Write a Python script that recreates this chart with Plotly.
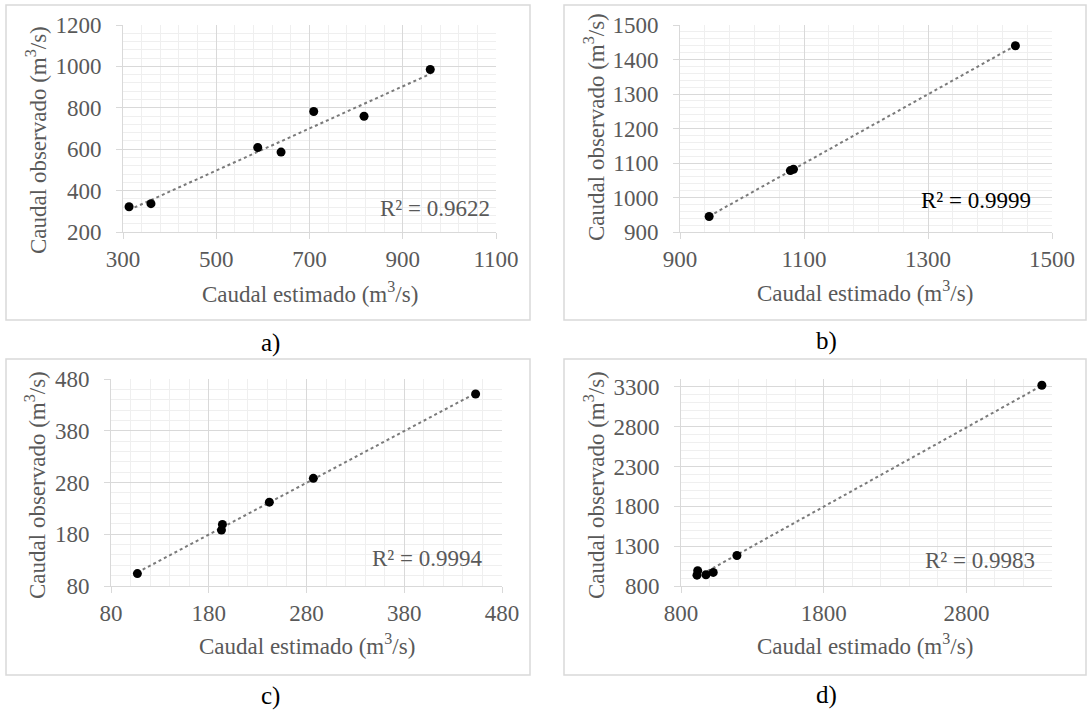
import numpy as np
import plotly.graph_objects as go

# values
a_est = [313, 360, 589, 639, 709, 817, 959]
a_obs = [322, 337, 608, 586, 782, 759, 985]
b_est = [947, 1078, 1083, 1441]
b_obs = [945, 1078, 1082, 1440]
c_est = [107, 193, 194, 242, 287, 453]
c_obs = [104, 188, 199, 242, 288, 451]
d_est = [912, 917, 975, 1026, 1192, 3329]
d_obs = [936, 992, 941, 971, 1183, 3321]
r2_labels = ["R² = 0.9622", "R² = 0.9999", "R² = 0.9994", "R² = 0.9983"]
captions = ["a)", "b)", "c)", "d)"]
x_title = "Caudal estimado (m<sup>3</sup>/s)"
y_title = "Caudal observado (m<sup>3</sup>/s)"

W, H = 1087, 713
FONT = "Liberation Serif"
GREY = "#595959"


def px(x):
    return x / W


def py(y):
    return 1 - y / H


# per panel: axis setup, plot box (l, t, r, b px), frame box, label positions
panels = [
    dict(est=a_est, obs=a_obs, xr=[300, 1100], xd=200, xm=40, yr=[200, 1200], yd=200, ym=40,
         box=(123, 25, 496, 232), frame=(6, 5, 530, 320), cap=(270, 343),
         xt=(310, 292), yt=(36, 140), r2=(492, 208), r2c=GREY),
    dict(est=b_est, obs=b_obs, xr=[900, 1500], xd=200, xm=40, yr=[900, 1500], yd=100, ym=20,
         box=(680, 25, 1052, 232), frame=(564, 5, 1086, 320), cap=(826, 341),
         xt=(865, 291), yt=(595, 127), r2=(1033, 200), r2c="#000000"),
    dict(est=c_est, obs=c_obs, xr=[80, 480], xd=100, xm=20, yr=[80, 480], yd=100, ym=20,
         box=(111, 379, 502, 586), frame=(6, 359, 530, 675), cap=(270, 696),
         xt=(307, 644), yt=(35, 485), r2=(484, 558), r2c=GREY),
    dict(est=d_est, obs=d_obs, xr=[800, 3400], xd=1000, xm=200, yr=[800, 3400], yd=500, ym=100,
         box=(681, 379, 1052, 586), frame=(564, 359, 1086, 675), cap=(826, 695),
         xt=(865, 644), yt=(594, 485), r2=(1037, 560), r2c=GREY),
]

fig = go.Figure()
layout = {}
shapes = []
annotations = []


def note(text, x, y, size=23, color=GREY, angle=0, xanchor="center"):
    annotations.append(dict(
        text=text, xref="paper", yref="paper", x=px(x), y=py(y),
        xanchor=xanchor, yanchor="middle", textangle=angle, showarrow=False,
        font=dict(family=FONT, size=size, color=color),
    ))


for i, p in enumerate(panels):
    n = "" if i == 0 else str(i + 1)
    xa, ya = "x" + n, "y" + n

    x = np.array(p["est"], dtype=float)
    y = np.array(p["obs"], dtype=float)
    k, c0 = np.polyfit(x, y, 1)
    xt = np.array([x.min(), x.max()])

    # linear trendline
    fig.add_trace(go.Scatter(
        x=xt, y=k * xt + c0, mode="lines", xaxis=xa, yaxis=ya,
        line=dict(color="#7a7a7a", width=2, dash="dot"), showlegend=False,
    ))
    fig.add_trace(go.Scatter(
        x=x, y=y, mode="markers", xaxis=xa, yaxis=ya,
        marker=dict(color="black", size=9), showlegend=False,
    ))

    l, t, r, b = p["box"]
    common = dict(
        showgrid=True, gridcolor="#d9d9d9", gridwidth=1,
        showline=True, linecolor="#d9d9d9", linewidth=1,
        ticks="outside", ticklen=6, tickcolor="#d9d9d9",
        tickfont=dict(family=FONT, size=23, color=GREY),
        zeroline=False, fixedrange=True, automargin=False,
    )
    layout["xaxis" + n] = dict(
        common, domain=[px(l), px(r)], anchor=ya, range=p["xr"],
        tick0=p["xr"][0], dtick=p["xd"], ticklabelstandoff=0,
        minor=dict(tick0=p["xr"][0], dtick=p["xm"], showgrid=True, gridcolor="#efefef", ticks=""),
    )
    layout["yaxis" + n] = dict(
        common, domain=[py(b), py(t)], anchor=xa, range=p["yr"],
        tick0=p["yr"][0], dtick=p["yd"], ticklabelstandoff=10,
        minor=dict(tick0=p["yr"][0], dtick=p["ym"], showgrid=True, gridcolor="#efefef", ticks=""),
    )

    fl, ft, fr, fb = p["frame"]
    shapes.append(dict(type="rect", xref="paper", yref="paper",
                       x0=px(fl), x1=px(fr), y0=py(fb), y1=py(ft),
                       line=dict(color="#d9d9d9", width=1.5), layer="below"))

    note(x_title, *p["xt"])
    note(y_title, *p["yt"], angle=-90)
    note(r2_labels[i], *p["r2"], color=p["r2c"], xanchor="right")
    note(captions[i], *p["cap"], size=25, color="black")

fig.update_layout(
    width=W, height=H,
    margin=dict(l=0, r=0, t=0, b=0),
    paper_bgcolor="white", plot_bgcolor="white",
    shapes=shapes, annotations=annotations,
    **layout,
)

# the page body has a default 8px margin; drop it so the figure fills the window
fig.write_html("out.html", config={"displayModeBar": False},
               post_script="document.body.style.margin = '0';")
